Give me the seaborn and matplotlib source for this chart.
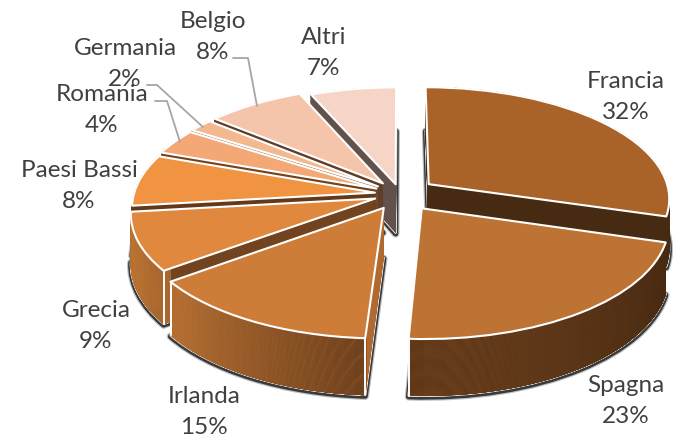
import numpy as np
import matplotlib
matplotlib.use("Agg")
import matplotlib.pyplot as plt
from matplotlib.patches import Wedge
from matplotlib.transforms import Transform
import seaborn as sns

categories = ["Francia", "Spagna", "Irlanda", "Grecia", "Paesi Bassi", "Romania", "Germania", "Belgio", "Altri"]
values = [32, 23, 15, 9, 8, 4, 2, 8, 7]
explode = [0.15, 0.155, 0.14, 0.11, 0.105, 0.11, 0.115, 0.12, 0.09]
top_colors = ["#A96329", "#BD7333", "#CE7D38", "#E0883E", "#F09442", "#F3A875", "#F4B88F", "#F5C5AB", "#F7D5C6"]
cut_colors = ["#472A12", "#472A12", "#B06A30", "#71441F", "#63391A", "#71441F", "#7A4F2E", "#5F3E2A", "#62524B"]
rim_from = ["#472A12", "#6B3F1C", "#B87133", "#C97E38", "#63391A", "#71441F", "#7A4F2E", "#5F3E2A", "#62524B"]
rim_to = ["#472A12", "#472A12", "#6F421E", "#A96830", "#63391A", "#71441F", "#7A4F2E", "#5F3E2A", "#62524B"]
label_pos = [(626, 97), (626, 401), (204, 412), (96, 326), (79, 186), (102, 110), (125, 64), (213, 37), (324, 53)]
leaders = [[(233, 58), (248, 58), (257, 106)],
           [(147, 85), (157, 85), (203, 127)],
           [(155, 101), (167, 101), (180, 142)]]

CX, CY, K, A, C, DEPTH = 400, 194, 241, 111, 0.122, 49
N_LAYERS, N_SEG = 55, 24


class Persp(Transform):
    input_dims = output_dims = 2
    is_separable = False
    has_inverse = False

    def __init__(self, z=0.0):
        super().__init__()
        self.z = z

    def transform_non_affine(self, xy):
        xy = np.asarray(xy, float)
        w = 1 + C * xy[:, 1]
        return np.column_stack([CX + K * xy[:, 0] / w,
                                CY + (-A * xy[:, 1] + self.z) / w])


sns.set_theme(style="white")
plt.rcParams["font.family"] = ["Lato", "DejaVu Sans"]

fig = plt.figure(figsize=(6.8, 4.4), dpi=100)
ax = fig.add_axes([0, 0, 1, 1])
tops, _ = ax.pie(values, explode=explode, colors=top_colors, startangle=90, counterclock=False,
                 wedgeprops=dict(edgecolor="white", linewidth=1.5, zorder=50, joinstyle="round"))
ax.set_aspect("auto")
ax.set_xlim(0, 680)
ax.set_ylim(440, 0)
ax.axis("off")
for w in tops:
    w.set_transform(Persp(0) + ax.transData)


def add(w, z, color, zorder, width=None, t1=None, t2=None, **kw):
    p = Wedge(w.center, w.r, w.theta1 if t1 is None else t1, w.theta2 if t2 is None else t2,
              width=width, facecolor=color, zorder=zorder, joinstyle="round", **kw)
    ax.add_patch(p)
    p.set_transform(Persp(z) + ax.transData)
    return p


# soft shadow and white outline of the base
for w in tops:
    add(w, DEPTH + 1, "none", 2, edgecolor=(0, 0, 0, 0.25), linewidth=5.5)
    add(w, DEPTH + 1, "none", 2, edgecolor=(0, 0, 0, 0.7), linewidth=3.8)
for w in tops:
    add(w, DEPTH, "white", 3, edgecolor="white", linewidth=1.6)

# extruded side walls
for li, z in enumerate(np.linspace(DEPTH, 0, N_LAYERS)):
    zo = 4 + li * 0.5
    for i, w in enumerate(tops):
        add(w, z, cut_colors[i], zo, edgecolor=cut_colors[i], linewidth=0.4)
        pal = sns.blend_palette([rim_from[i], rim_to[i]], N_SEG)
        edges = np.linspace(w.theta1, w.theta2, N_SEG + 1)
        # each segment runs on to the end of the slice so no seams show between them
        for s in range(N_SEG):
            add(w, z, pal[s], zo + 0.1 + s * 0.001, width=0.03, t1=edges[s], t2=w.theta2,
                edgecolor=pal[s], linewidth=0.3)

# white vertical corners on the front slices
for i, attr in [(1, "theta1"), (2, "theta1"), (2, "theta2"), (3, "theta2")]:
    w = tops[i]
    t = np.deg2rad(getattr(w, attr))
    p = np.array([[w.center[0] + np.cos(t), w.center[1] + np.sin(t)]])
    a, b = Persp(0).transform_non_affine(p)[0], Persp(DEPTH).transform_non_affine(p)[0]
    ax.plot([a[0], b[0]], [a[1], b[1]], color="white", lw=1.4, zorder=45, solid_capstyle="round")

for pts in leaders:
    ax.plot(*zip(*pts), color="#A6A6A6", lw=1.3, zorder=60)

for name, v, (x, y) in zip(categories, values, label_pos):
    ax.text(x, y, f"{name}\n{v}%", ha="center", va="center", fontsize=17.5, color="#404040",
            linespacing=1.55, zorder=70)

fig.savefig("out.png", dpi=100)
